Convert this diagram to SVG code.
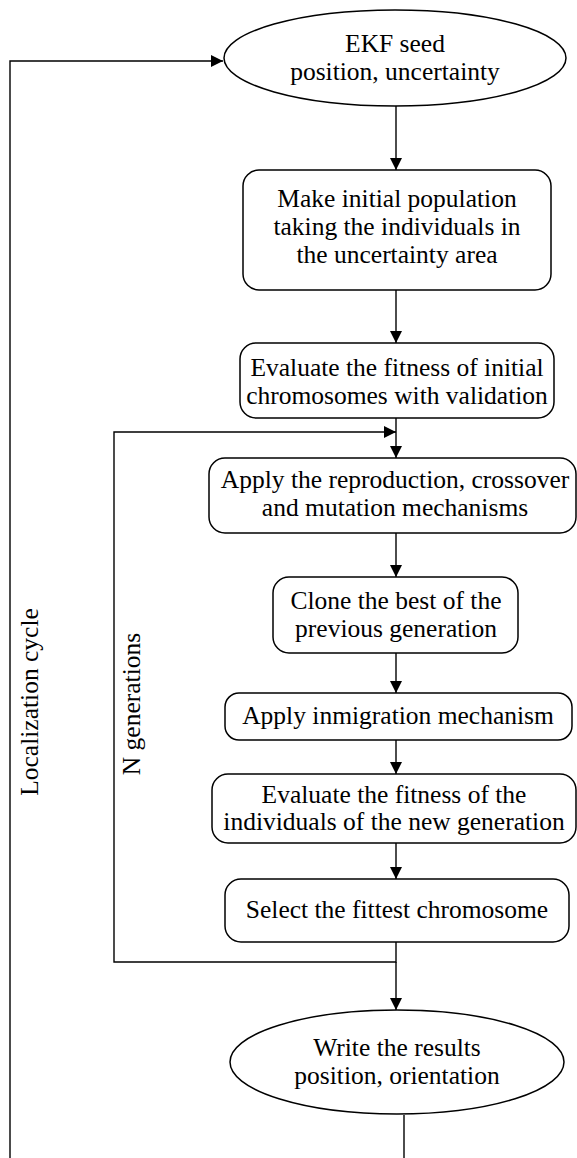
<svg xmlns="http://www.w3.org/2000/svg" width="577" height="1158" viewBox="0 0 577 1158">
<defs>
<style>
.n{fill:#fff;stroke:#000;stroke-width:1.5}
.t{font-family:"Liberation Serif","Times New Roman",serif;font-size:25.5px;fill:#000;text-anchor:middle}
.c{fill:none;stroke:#000;stroke-width:1.4}
</style>
<marker id="ah" viewBox="0 0 12 12" refX="12" refY="6" markerWidth="12" markerHeight="12" markerUnits="userSpaceOnUse" orient="auto">
<path d="M0,0 L12,6 L0,12 Z" fill="#000"/>
</marker>
</defs>
<rect width="577" height="1158" fill="#fff"/>
<g id="connectors">
<path class="c" d="M10,1158 L10,61 L223,61" marker-end="url(#ah)"/>
<path class="c" d="M396,106 L396,170" marker-end="url(#ah)"/>
<path class="c" d="M396,290 L396,343" marker-end="url(#ah)"/>
<path class="c" d="M396,418 L396,458" marker-end="url(#ah)"/>
<path class="c" d="M396,942 L396,962 L114,962 L114,432 L396,432" marker-end="url(#ah)"/>
<path class="c" d="M396,533 L396,577" marker-end="url(#ah)"/>
<path class="c" d="M396,653 L396,693" marker-end="url(#ah)"/>
<path class="c" d="M396,740 L396,774" marker-end="url(#ah)"/>
<path class="c" d="M396,843 L396,879" marker-end="url(#ah)"/>
<path class="c" d="M396,962 L396,1010" marker-end="url(#ah)"/>
<path class="c" d="M404,1115 L404,1158"/>
</g>
<g id="n1">
<ellipse class="n" cx="395" cy="58" rx="171" ry="48"/>
<text class="t" x="395" y="52">EKF seed</text>
<text class="t" x="395" y="80">position, uncertainty</text>
</g>
<g id="n2">
<rect class="n" x="243" y="170" width="308" height="120" rx="16"/>
<text class="t" x="397" y="207">Make initial population</text>
<text class="t" x="397" y="235">taking the individuals in</text>
<text class="t" x="397" y="263">the uncertainty area</text>
</g>
<g id="n3">
<rect class="n" x="240" y="343" width="314" height="75" rx="16"/>
<text class="t" x="397" y="376">Evaluate the fitness of initial</text>
<text class="t" x="397" y="404">chromosomes with validation</text>
</g>
<g id="n4">
<rect class="n" x="209" y="458" width="367" height="75" rx="16"/>
<text class="t" x="395" y="488">Apply the reproduction, crossover</text>
<text class="t" x="395" y="516">and mutation mechanisms</text>
</g>
<g id="n5">
<rect class="n" x="273" y="577" width="245" height="76" rx="16"/>
<text class="t" x="396" y="609">Clone the best of the</text>
<text class="t" x="396" y="637">previous generation</text>
</g>
<g id="n6">
<rect class="n" x="225" y="693" width="347" height="47" rx="14"/>
<text class="t" x="398" y="724">Apply inmigration mechanism</text>
</g>
<g id="n7">
<rect class="n" x="212" y="774" width="364" height="69" rx="16"/>
<text class="t" x="394" y="803">Evaluate the fitness of the</text>
<text class="t" x="394" y="830">individuals of the new generation</text>
</g>
<g id="n8">
<rect class="n" x="225" y="879" width="344" height="63" rx="16"/>
<text class="t" x="397" y="918">Select the fittest chromosome</text>
</g>
<g id="n9">
<ellipse class="n" cx="397" cy="1062" rx="167" ry="52"/>
<text class="t" x="397" y="1056">Write the results</text>
<text class="t" x="397" y="1084">position, orientation</text>
</g>
<g id="labels">
<text class="t" transform="translate(38,702) rotate(-90)">Localization cycle</text>
<text class="t" transform="translate(140,704) rotate(-90)">N generations</text>
</g>
</svg>
